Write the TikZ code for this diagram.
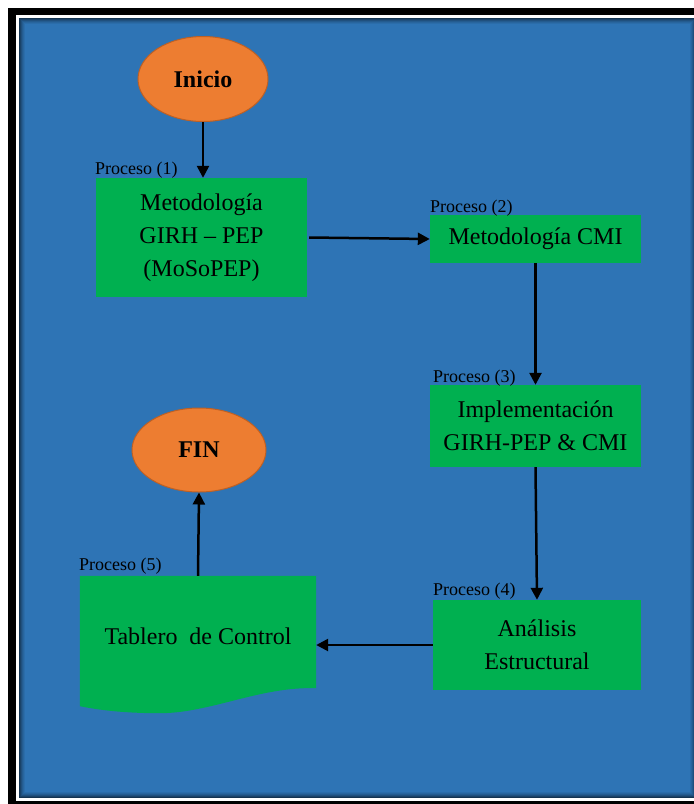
\documentclass[tikz,border=0pt]{standalone}
\usepackage{fontspec}
\setmainfont{Liberation Serif}
\usetikzlibrary{arrows.meta,shapes.geometric,calc}

\definecolor{panelblue}{RGB}{46,116,181}
\definecolor{procgreen}{RGB}{0,176,80}
\definecolor{termorange}{RGB}{237,125,49}
\definecolor{termedge}{RGB}{190,96,36}

\tikzset{
  terminal/.style={ellipse, fill=termorange, draw=termedge, line width=1pt,
    inner sep=0pt, font=\fontsize{24}{28}\selectfont\bfseries},
  procbox/.style={rectangle, fill=procgreen, inner sep=0pt, align=center,
    font=\fontsize{24}{33}\selectfont},
  doctext/.style={rectangle, inner sep=0pt, align=center,
    font=\fontsize{24}{33}\selectfont},
  proclabel/.style={anchor=base west, inner sep=0pt,
    font=\fontsize{18}{20}\selectfont},
  flow/.style={line width=2.5pt, -{Triangle[length=12pt,width=12pt]}},
}

\begin{document}
\begin{tikzpicture}[x=1pt,y=-1pt]
  \useasboundingbox (0,0) rectangle (694,804);
  \clip (0,0) rectangle (694,804);

  % page frame: black band, thin white rule, blue panel
  \fill[white] (0,0) rectangle (694,804);
  \fill[black] (8,8) rectangle (710,820);
  \fill[white] (16,15) rectangle (710,801);
  \fill[panelblue] (19,18) rectangle (696,798);
  % soft inner shading along the panel edges
  \foreach \i/\o in {0/0.55,1/0.42,2/0.30,3/0.20,4/0.12,5/0.06}
    \draw[black, opacity=\o, line width=1pt]
      (19.5+\i,18.5+\i) rectangle (695.5-\i,797.5-\i);

  % terminals
  \node[terminal, minimum width=130pt, minimum height=85pt] (inicio) at (203,79) {Inicio};
  \node[terminal, minimum width=134pt, minimum height=84pt] (fin) at (199,450) {\raisebox{-3pt}{FIN}};

  % process boxes
  \node[procbox, minimum width=211pt, minimum height=119pt] (p1) at (201.5,237.5)
    {Metodología\\GIRH – PEP\\(MoSoPEP)};
  \node[procbox, minimum width=211pt, minimum height=48pt] (p2) at (535.5,239)
    {Metodología CMI};
  \node[procbox, minimum width=211pt, minimum height=82pt] (p3) at (535.5,426)
    {Implementación\\GIRH-PEP \& CMI};
  \node[procbox, minimum width=208pt, minimum height=90pt] (p4) at (537,645)
    {Análisis\\Estructural};

  % document shape with wavy lower edge
  \node[doctext, minimum width=236pt, minimum height=120pt] (doc) at (198,636) {};
  \fill[procgreen] (doc.north west) -- (doc.north east)
    -- ($(doc.south east)+(0,-8)$)
    .. controls ($(doc.south east)+(-56,-10)$) and ($(doc.south east)+(-106,17)$)
    .. ($(doc.south west)+(80,17)$)
    .. controls ($(doc.south west)+(45,17)$) and ($(doc.south west)+(20,14)$)
    .. ($(doc.south west)+(0,10)$) -- cycle;
  \node[doctext] (doctxt) at (doc.center) {Tablero\ \ de Control};

  % process labels
  \node[proclabel] (l1) at (95,174) {Proceso (1)};
  \node[proclabel] (l2) at (430,212) {Proceso (2)};
  \node[proclabel] (l3) at (433,382) {Proceso (3)};
  \node[proclabel] (l4) at (433,595) {Proceso (4)};
  \node[proclabel] (l5) at (79,570) {Proceso (5)};

  % flow connectors
  \draw[flow] (inicio.south) -- (inicio.south |- p1.north);
  \draw[flow] ($(p1.east)+(2,0)$) -- (p2.west);
  \draw[flow] (p2.south) -- (p3.north);
  \draw[flow] (p3.south) -- (p4.north);
  \draw[flow] (p4.west) -- (p4.west -| doc.east);
  \draw[flow] (doc.north) -- (fin.south);
\end{tikzpicture}
\end{document}
